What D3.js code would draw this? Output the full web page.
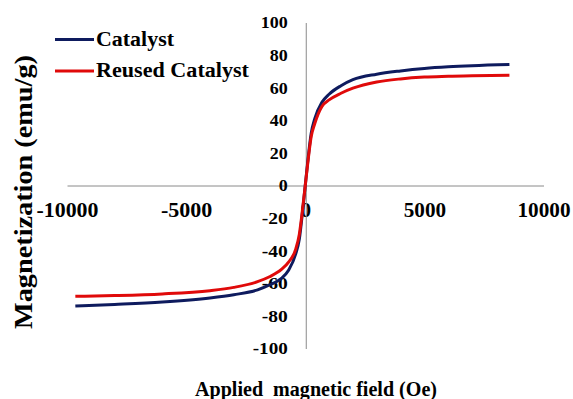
<!DOCTYPE html>
<html>
<head>
<meta charset="utf-8">
<script src="https://cdn.jsdelivr.net/npm/d3@7"></script>
<style>
  body { margin: 0; background: white; }
</style>
</head>
<body>
<svg id="chart" width="573" height="399" font-family="'Times New Roman', 'Liberation Serif', serif" font-weight="bold"></svg>
<script>
// applied field (Oe)
const fields = [-9650, -8000, -6000, -4000, -3000, -2000, -1500, -1000, -700, -400, -250, -100, 0,
                100, 250, 400, 700, 1000, 1500, 2000, 3000, 4000, 5000, 6000, 7000, 8570];
// magnetization (emu/g)
const catalyst = [-74, -73, -71.5, -69, -67, -64, -61, -57, -52, -42, -33, -14, 0,
                  14, 32, 41, 51, 56, 61.2, 64.9, 68.3, 70.3, 71.8, 72.8, 73.5, 74.2];
const reused = [-68, -67.5, -66.5, -64.5, -62.5, -59, -56, -51.5, -47, -39, -30, -13, 0,
                13, 30, 38, 48.5, 52.5, 56.6, 59.7, 63.5, 65.4, 66.5, 67, 67.4, 67.6];
const xTicks = [-10000, -5000, 0, 5000, 10000];
const yTicks = [-100, -80, -60, -40, -20, 0, 20, 40, 60, 80, 100];
const seriesNames = ["Catalyst", "Reused Catalyst"];
const colors = ["#0e1b5e", "#e00a0a"];

const svg = d3.select("#chart");

const x = d3.scaleLinear().domain([-10000, 10000]).range([67, 543.5]);
const y = d3.scaleLinear().domain([-100, 100]).range([348.5, 22.5]);

// width of a label in the (wide) original typeface
function labelWidth(d, digit, minus) {
  const s = String(Math.abs(d));
  return s.length * digit + (d < 0 ? minus : 0);
}

// x axis through the origin
const xAxis = svg.append("g")
    .attr("transform", `translate(0,${y(0)})`)
    .call(d3.axisBottom(x).tickValues(xTicks).tickSize(0).tickSizeOuter(0).tickPadding(17)
      .tickFormat(d => d));
xAxis.attr("font-family", null).attr("font-size", 20);
xAxis.select(".domain").attr("stroke", "#8a8a8a").attr("stroke-width", 1);
xAxis.selectAll("text").attr("fill", "black")
    .attr("textLength", d => labelWidth(d, 10.6, 9))
    .attr("lengthAdjust", "spacingAndGlyphs");

// y axis through the origin
const yAxis = svg.append("g")
    .attr("transform", `translate(${x(0) + 0.5},0)`)
    .call(d3.axisLeft(y).tickValues(yTicks).tickSize(0).tickSizeOuter(0).tickPadding(18)
      .tickFormat(d => d));
yAxis.attr("font-family", null).attr("font-size", 16);
yAxis.select(".domain").attr("stroke", "#8a8a8a").attr("stroke-width", 1);
yAxis.selectAll("text").attr("fill", "black").attr("dy", "0.34em")
    .attr("textLength", d => labelWidth(d, 9, 8))
    .attr("lengthAdjust", "spacingAndGlyphs");

const line = d3.line()
    .x(d => x(d[0]))
    .y(d => y(d[1]))
    .curve(d3.curveMonotoneX);

[catalyst, reused].forEach((vals, i) => {
  svg.append("path")
    .datum(fields.map((f, j) => [f, vals[j]]))
    .attr("fill", "none")
    .attr("stroke", colors[i])
    .attr("stroke-width", 3)
    .attr("d", line);
});

// legend
const legend = svg.append("g");
seriesNames.forEach((name, i) => {
  const ly = 39.5 + i * 31.5;
  legend.append("line")
    .attr("x1", 55).attr("x2", 94)
    .attr("y1", ly).attr("y2", ly)
    .attr("stroke", colors[i]).attr("stroke-width", 3);
  legend.append("text")
    .attr("x", 96).attr("y", ly + 6)
    .attr("font-size", 20)
    .attr("textLength", i == 0 ? 78 : 153)
    .attr("lengthAdjust", "spacingAndGlyphs")
    .text(name);
});

// axis titles
svg.append("text")
    .attr("x", 195).attr("y", 396)
    .attr("font-size", 20)
    .style("white-space", "pre")
    .attr("textLength", 242)
    .attr("lengthAdjust", "spacingAndGlyphs")
    .text("Applied  magnetic field (Oe)");

svg.append("text")
    .attr("transform", "translate(32,192) rotate(-90)")
    .attr("text-anchor", "middle")
    .attr("font-size", 25)
    .attr("textLength", 274)
    .attr("lengthAdjust", "spacingAndGlyphs")
    .text("Magnetization (emu/g)");
</script>
</body>
</html>
